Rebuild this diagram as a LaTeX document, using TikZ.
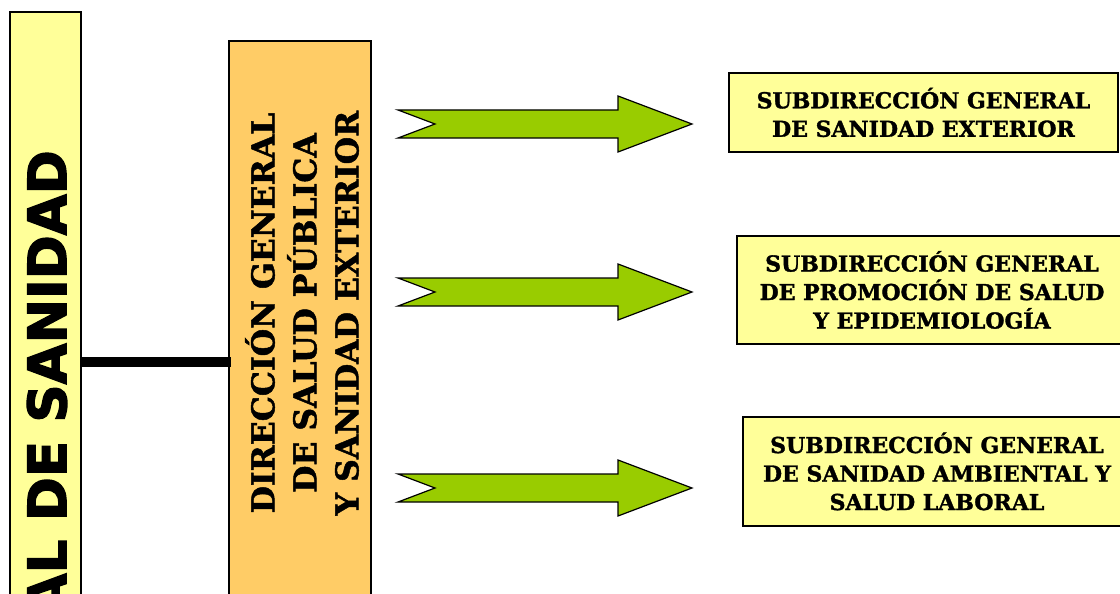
\documentclass[tikz,border=0pt]{standalone}
\usepackage{fontspec}
\setmainfont{DejaVu Serif}[BoldFont={DejaVu Serif Bold}, BoldFeatures={FakeBold=1.5}]
\newfontfamily\headfont{DejaVu Sans}[BoldFont={DejaVu Sans Bold}, BoldFeatures={FakeBold=2.5}]
\definecolor{paleyellow}{HTML}{FFFF99}
\definecolor{paleorange}{HTML}{FFCC66}
\definecolor{arrowgreen}{HTML}{99CC00}

\begin{document}
\begin{tikzpicture}[x=1pt,y=-1pt,
  box/.style={draw=black, line width=1.2pt, inner sep=0pt},
  subbox/.style={box, fill=paleyellow, align=center,
    font=\bfseries\fontsize{22}{28.5}\selectfont},
  blockarrow/.style={draw=black, line width=1.2pt, fill=arrowgreen, line join=miter}]
\useasboundingbox (0,0) rectangle (1120,594);
\clip (0,0) rectangle (1120,594);
% main blocks
\node[box, fill=paleyellow, minimum width=71, minimum height=628] (sanidad) at (45.5,326) {};
\node[rotate=90, anchor=east, inner sep=0pt, font=\headfont\bfseries\fontsize{53}{53}\selectfont]
  (sanidadtxt) at (47,150) {GENERAL DE SANIDAD};
\node[box, fill=paleorange, minimum width=142, minimum height=600] (dgsp) at (300,341) {};
\node[rotate=90, align=center, inner sep=0pt, font=\bfseries\fontsize{31.5}{42}\selectfont]
  (dgsptxt) at (302,313) {DIRECCIÓN GENERAL\\DE SALUD PÚBLICA\\Y SANIDAD EXTERIOR};
\coordinate (lnk) at (150,362);
\draw[line width=10pt] (sanidad.east |- lnk) -- ([xshift=3pt]dgsp.west |- lnk);
% subdirecciones
\node[subbox, minimum width=389, minimum height=79] (sub1) at (923.5,112.5)
  {SUBDIRECCIÓN GENERAL\\DE SANIDAD EXTERIOR};
\node[subbox, minimum width=390, minimum height=108] (sub2) at (932,290)
  {SUBDIRECCIÓN GENERAL\\DE PROMOCIÓN DE SALUD\\Y EPIDEMIOLOGÍA};
\node[subbox, minimum width=388, minimum height=109] (sub3) at (937,471.5)
  {SUBDIRECCIÓN GENERAL\\DE SANIDAD AMBIENTAL Y\\SALUD LABORAL};
% arrows
\foreach \y in {124,292,488}{
  \draw[blockarrow] (398,\y-14) -- (618,\y-14) -- (618,\y-28) -- (692,\y)
    -- (618,\y+28) -- (618,\y+14) -- (398,\y+14) -- (435,\y) -- cycle;
}
\end{tikzpicture}
\end{document}
